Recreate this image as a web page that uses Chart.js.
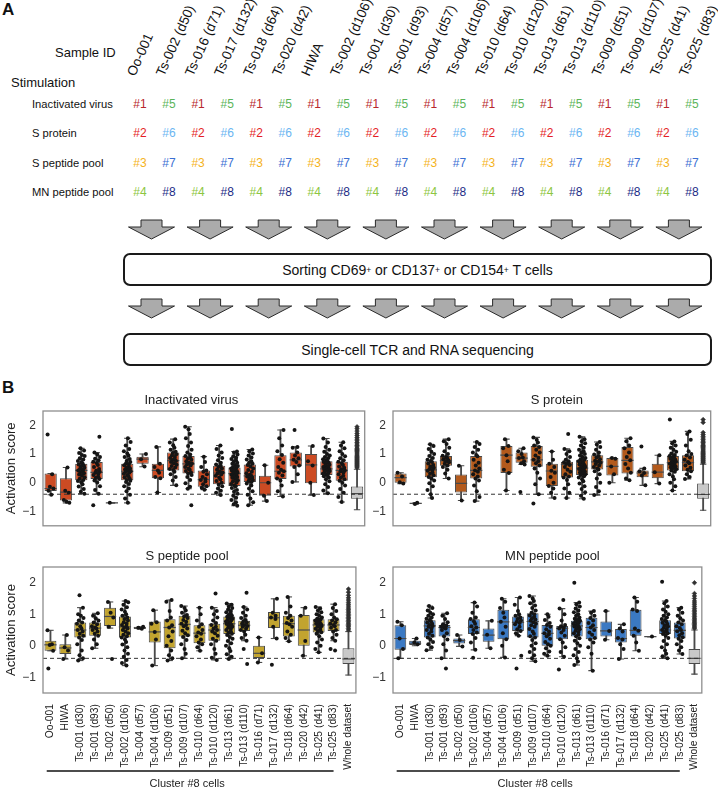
<!DOCTYPE html>
<html><head><meta charset="utf-8">
<script src="https://cdn.jsdelivr.net/npm/chart.js@4.4.1/dist/chart.umd.min.js"></script>
<style>
html,body{margin:0;padding:0;background:#fff;overflow:hidden;width:718px;height:792px;}
body{position:relative;font-family:'Liberation Sans',Arial,sans-serif;color:#111;}
#schem{position:absolute;left:0;top:0;}
.flow{position:absolute;left:123px;width:585px;height:29px;border:2px solid #1a1a1a;border-radius:7px;display:flex;align-items:center;justify-content:center;font-size:14px;color:#111;}
.flow sup{font-size:8.5px;line-height:0;}
canvas{position:absolute;}
.plabel{position:absolute;font-weight:bold;font-size:17px;line-height:17px;}
</style></head>
<body>
<div class="plabel" style="left:2px;top:1px">A</div>
<div class="plabel" style="left:2px;top:379px">B</div>
<svg id="schem" width="718" height="380" xmlns="http://www.w3.org/2000/svg"></svg>
<div class="flow" style="top:253px">Sorting CD69<sup>+</sup>&nbsp;or CD137<sup>+</sup>&nbsp;or CD154<sup>+</sup>&nbsp;T cells</div>
<div class="flow" style="top:333px">Single-cell TCR and RNA sequencing</div>
<canvas id="cIV" width="372" height="145" style="left:0;top:395px"></canvas>
<canvas id="cSP" width="363" height="145" style="left:355px;top:395px"></canvas>
<canvas id="cPP" width="372" height="241" style="left:0;top:551px"></canvas>
<canvas id="cMN" width="363" height="241" style="left:355px;top:551px"></canvas>
<script>
// ---------- Panel A data ----------
const sampleIds = ['Oo-001','Ts-002 (d50)','Ts-016 (d71)','Ts-017 (d132)','Ts-018 (d64)','Ts-020 (d42)','HIWA','Ts-002 (d106)','Ts-001 (d30)','Ts-001 (d93)','Ts-004 (d57)','Ts-004 (d106)','Ts-010 (d64)','Ts-010 (d120)','Ts-013 (d61)','Ts-013 (d110)','Ts-009 (d51)','Ts-009 (d107)','Ts-025 (d41)','Ts-025 (d83)'];
const stimulations = ['Inactivated virus','S protein','S peptide pool','MN peptide pool'];
const oddCodes = ['#1','#2','#3','#4'];
const evenCodes = ['#5','#6','#7','#8'];
const codeColors = {'#1':'#b8272c','#5':'#5bb55a','#2':'#e41e26','#6':'#6bb6f2','#3':'#f5b31c','#7':'#3b6fd3','#4':'#8dc641','#8':'#1c2c86'};

// ---------- Panel B data ----------
const categories = ['Oo-001','HIWA','Ts-001 (d30)','Ts-001 (d93)','Ts-002 (d50)','Ts-002 (d106)','Ts-004 (d57)','Ts-004 (d106)','Ts-009 (d51)','Ts-009 (d107)','Ts-010 (d64)','Ts-010 (d120)','Ts-013 (d61)','Ts-013 (d110)','Ts-016 (d71)','Ts-017 (d132)','Ts-018 (d64)','Ts-020 (d42)','Ts-025 (d41)','Ts-025 (d83)','Whole dataset'];
const yTicks = [-1,0,1,2];
const baseline = -0.4;

// Inactivated virus
const ivQ1  = [-0.29,-0.62,0.09,0.13,-0.705,0.09,0.66,0.16,0.43,0.32,-0.14,-0.05,-0.11,0.03,-0.45,0.13,0.57,-0.02,0.27,0.07,-0.56];
const ivMed = [-0.2,-0.33,0.43,0.36,-0.7,0.4,0.82,0.43,0.77,0.66,0.11,0.34,0.32,0.24,0.0,0.4,0.8,0.62,0.48,0.43,-0.38];
const ivQ3  = [0.32,0.16,0.66,0.72,-0.695,0.66,0.91,0.66,1.05,0.93,0.43,0.59,0.53,0.64,0.24,0.96,1.05,1.0,0.75,0.73,-0.13];
const ivLo  = [-0.42,-0.7,-0.38,-0.4,-0.7,-0.7,0.56,-0.34,-0.09,-0.21,-0.24,-0.43,-0.8,-0.78,-0.64,-0.48,0.03,-0.43,-0.37,-0.67,-0.94];
const ivHi  = [0.32,0.53,1.2,1.05,-0.7,1.55,1.0,1.25,1.52,1.95,0.91,1.3,1.09,1.16,0.61,1.84,1.25,1.28,1.54,1.41,0.47];
const ivPoints = [
 [1.68,0.3,-0.14,-0.2,-0.28,-0.42],
 [0.53,-0.28,-0.35,-0.6,-0.66,-0.7],
 [1.2,1.12,1.04,0.97,0.93,0.85,0.81,0.76,0.71,0.68,0.64,0.6,0.57,0.52,0.49,0.45,0.43,0.41,0.37,0.33,0.29,0.24,0.19,0.14,0.1,0.06,0.02,-0.05,-0.13,-0.22,-0.31,-0.38],
 [1.6,1.05,0.98,0.9,0.84,0.78,0.73,0.69,0.62,0.55,0.48,0.42,0.38,0.35,0.31,0.27,0.22,0.17,0.13,0.08,0.01,-0.12,-0.25,-0.38,-0.78],
 [-0.7],
 [1.55,1.42,1.3,1.18,1.1,1.02,0.95,0.9,0.83,0.77,0.72,0.68,0.65,0.61,0.57,0.53,0.5,0.46,0.43,0.4,0.38,0.35,0.31,0.27,0.23,0.19,0.14,0.1,0.07,0.03,-0.04,-0.12,-0.2,-0.3,-0.42,-0.55,-0.7],
 [1.0,0.82,0.57],
 [1.25,0.66,0.55,0.43,0.35,0.2,0.16,-0.34],
 [1.52,1.4,1.31,1.22,1.15,1.08,1.04,0.99,0.95,0.9,0.86,0.82,0.79,0.76,0.72,0.68,0.63,0.58,0.53,0.48,0.44,0.38,0.3,0.2,0.08,-0.09],
 [1.95,1.86,1.7,1.55,1.4,1.28,1.15,1.05,0.98,0.93,0.88,0.84,0.8,0.75,0.7,0.67,0.64,0.6,0.55,0.5,0.45,0.41,0.36,0.32,0.27,0.2,0.1,-0.02,-0.14,-0.21,-0.78],
 [0.91,0.72,0.55,0.43,0.38,0.3,0.2,0.13,0.1,0.04,-0.05,-0.12,-0.17,-0.24],
 [1.3,1.18,1.05,0.95,0.86,0.78,0.7,0.64,0.59,0.55,0.5,0.45,0.4,0.36,0.33,0.29,0.24,0.18,0.12,0.06,0.0,-0.06,-0.12,-0.2,-0.28,-0.35,-0.43],
 [1.87,1.09,1.05,0.98,0.92,0.87,0.83,0.78,0.74,0.7,0.66,0.62,0.58,0.55,0.53,0.5,0.47,0.45,0.42,0.4,0.38,0.35,0.33,0.31,0.28,0.26,0.23,0.2,0.17,0.13,0.09,0.05,0.01,-0.04,-0.09,-0.12,-0.18,-0.25,-0.31,-0.38,-0.45,-0.52,-0.6,-0.68,-0.75,-0.8],
 [1.16,1.1,1.02,0.95,0.88,0.81,0.75,0.7,0.66,0.62,0.57,0.5,0.44,0.38,0.33,0.28,0.25,0.22,0.18,0.14,0.1,0.06,0.03,-0.03,-0.1,-0.2,-0.3,-0.42,-0.55,-0.68,-0.78],
 [0.61,0.0,-0.45,-0.64],
 [1.84,1.55,1.3,1.1,0.97,0.82,0.7,0.55,0.45,0.4,0.35,0.25,0.15,0.08,-0.1,-0.3,-0.48],
 [1.84,1.25,1.22,1.05,0.95,0.85,0.8,0.72,0.6,0.55,0.3,0.03],
 [1.28,0.75,0.6,0.0,-0.43],
 [1.54,1.4,1.25,1.15,1.08,1.0,0.95,0.9,0.86,0.82,0.78,0.75,0.72,0.69,0.66,0.63,0.6,0.57,0.55,0.52,0.5,0.48,0.46,0.44,0.41,0.38,0.35,0.32,0.29,0.27,0.23,0.18,0.12,0.05,-0.05,-0.15,-0.27,-0.37],
 [1.41,1.3,1.2,1.1,1.0,0.92,0.85,0.78,0.73,0.68,0.62,0.57,0.52,0.47,0.43,0.4,0.36,0.3,0.24,0.18,0.12,0.07,0.0,-0.1,-0.22,-0.35,-0.5,-0.67]
];
const ivWholeOutliers = [0.52,0.56,0.6,0.63,0.67,0.7,0.74,0.78,0.81,0.85,0.88,0.92,0.96,1.0,1.04,1.08,1.12,1.16,1.2,1.25,1.3,1.35,1.4,1.46,1.52,1.58,1.65,1.72,1.8,1.88,1.95];

// S protein
const spQ1  = [0.0,-0.73,0.19,0.59,-0.34,0.15,null,0.34,0.7,0.56,-0.11,0.18,0.27,0.46,0.25,0.32,0.19,0.16,0.43,0.4,-0.56];
const spMed = [0.18,-0.72,0.45,0.77,-0.02,0.43,null,0.96,0.86,0.8,0.41,0.64,0.51,0.73,0.57,0.78,0.34,0.37,0.7,0.7,-0.41];
const spQ3  = [0.32,-0.71,0.75,0.93,0.29,0.93,null,1.28,1.05,1.28,0.66,0.73,0.8,0.96,0.86,1.25,0.43,0.66,0.93,0.96,-0.03];
const spLo  = [-0.03,-0.74,-0.53,0.15,-0.62,-0.64,null,-0.27,0.64,-0.4,-0.53,-0.53,-0.56,-0.43,0.0,0.09,-0.09,-0.03,-0.27,0.13,-0.96];
const spHi  = [0.35,-0.7,1.34,1.52,0.59,1.42,null,1.52,1.2,1.58,1.09,1.18,1.6,1.42,0.86,1.55,0.5,0.96,1.44,1.79,0.65];
const spPoints = [
 [0.35,0.22,0.02,-0.03],
 [-0.7,-0.74],
 [1.34,1.28,1.18,1.08,1.0,0.93,0.86,0.8,0.76,0.72,0.67,0.62,0.57,0.52,0.48,0.45,0.42,0.37,0.31,0.26,0.2,0.15,0.08,-0.02,-0.12,-0.25,-0.4,-0.53],
 [1.52,1.45,1.35,1.22,1.1,1.0,0.94,0.9,0.86,0.82,0.78,0.75,0.71,0.66,0.6,0.55,0.45,0.32,0.15],
 [0.59,-0.62],
 [1.42,1.35,1.25,1.15,1.05,0.97,0.92,0.8,0.7,0.6,0.5,0.43,0.38,0.3,0.22,0.15,0.08,-0.1,-0.3,-0.5,-0.64],
 [],
 [1.52,1.28,1.2,0.96,0.75,0.45,0.34,-0.27],
 [1.2,1.1,1.0,0.88,0.86,0.75,0.68,0.64,-0.32],
 [1.58,1.5,1.4,1.3,1.25,1.15,1.05,0.95,0.87,0.8,0.75,0.68,0.6,0.5,0.35,0.15,-0.05,-0.4,-0.72],
 [1.09,0.8,0.66,0.55,0.42,0.35,0.2,0.0,-0.11,-0.2,-0.35,-0.53],
 [1.7,1.18,1.1,1.0,0.9,0.8,0.75,0.71,0.68,0.65,0.62,0.55,0.45,0.38,0.3,0.22,0.18,0.1,-0.05,-0.2,-0.35,-0.53],
 [1.6,1.52,1.45,1.38,1.3,1.22,1.15,1.1,1.05,1.0,0.95,0.9,0.86,0.82,0.79,0.75,0.71,0.68,0.64,0.61,0.58,0.55,0.52,0.5,0.48,0.45,0.42,0.39,0.36,0.33,0.3,0.27,0.23,0.18,0.12,0.05,-0.03,-0.12,-0.22,-0.33,-0.45,-0.56],
 [1.42,1.33,1.25,1.15,1.05,0.98,0.93,0.88,0.82,0.77,0.73,0.7,0.65,0.6,0.55,0.5,0.46,0.4,0.3,0.15,0.0,-0.15,-0.3,-0.43],
 [0.86,0.84,0.57,0.3,0.0],
 [1.55,1.45,1.3,1.2,1.05,0.9,0.78,0.65,0.5,0.35,0.15,0.09],
 [1.26,0.5,0.4,0.34,0.25,-0.09],
 [0.96,0.37,-0.03],
 [2.2,1.44,1.38,1.3,1.22,1.15,1.08,1.02,0.97,0.93,0.9,0.87,0.84,0.8,0.77,0.74,0.71,0.69,0.66,0.63,0.6,0.57,0.54,0.51,0.47,0.43,0.38,0.3,0.22,0.12,0.0,-0.12,-0.27],
 [1.79,1.7,1.5,1.3,1.1,1.0,0.95,0.88,0.8,0.72,0.68,0.6,0.52,0.45,0.4,0.3,0.2,0.13]
];
const spWholeOutliers = [0.7,0.73,0.77,0.8,0.84,0.87,0.91,0.94,0.98,1.02,1.06,1.1,1.14,1.18,1.22,1.26,1.3,1.35,1.4,1.45,1.5,1.56,1.62,1.68,1.75,2.1,2.2];

// S peptide pool
const ppQ1  = [-0.16,-0.26,0.26,0.32,0.63,0.26,0.53,0.1,-0.08,0.29,0.08,0.16,0.37,0.47,-0.39,0.56,0.29,0.0,0.42,0.47,-0.58];
const ppMed = [0.03,-0.07,0.5,0.56,0.93,0.6,0.57,0.44,0.58,0.68,0.4,0.5,0.7,0.65,-0.24,0.89,0.7,0.5,0.66,0.66,-0.42];
const ppQ3  = [0.16,0.05,0.74,0.74,1.21,0.93,0.6,0.77,0.84,0.95,0.65,0.7,0.93,0.79,0.0,1.07,0.95,0.98,0.84,0.84,-0.08];
const ppLo  = [-0.16,-0.42,-0.47,-0.08,0.56,-0.63,0.53,-0.63,-0.47,-0.4,-0.16,-0.45,-0.42,0.16,-0.53,0.23,0.14,-0.32,-0.21,0.16,-0.93];
const ppHi  = [0.49,0.34,1.21,1.03,1.39,1.42,0.6,1.13,1.45,1.26,1.21,1.21,1.34,1.23,0.26,1.49,1.55,1.21,1.23,1.32,0.45];
const ppPoints = [
 [0.49,0.05,0.02,-0.16,-0.72],
 [0.34,-0.05,-0.15,-0.42],
 [1.6,1.21,1.0,0.95,0.88,0.8,0.74,0.7,0.62,0.55,0.5,0.45,0.38,0.32,0.26,0.18,0.05,-0.15,-0.3,-0.4,-0.47],
 [1.03,0.95,0.87,0.8,0.74,0.68,0.62,0.58,0.55,0.5,0.45,0.38,0.32,0.2,0.05,-0.08],
 [1.39,1.05,0.9,0.6,-0.42],
 [1.42,1.38,1.3,1.22,1.15,1.08,1.0,0.95,0.9,0.85,0.8,0.75,0.7,0.66,0.62,0.58,0.55,0.5,0.45,0.4,0.35,0.3,0.26,0.2,0.12,0.04,-0.05,-0.15,-0.25,-0.35,-0.45,-0.55,-0.63],
 [0.6,0.57,0.54],
 [1.13,0.75,0.7,0.44,0.2,-0.63],
 [1.45,1.4,1.1,0.9,0.8,0.65,0.58,0.45,0.3,0.15,0.0,-0.15,-0.3,-0.4,-0.47],
 [1.26,1.2,1.12,1.05,0.98,0.93,0.88,0.82,0.76,0.7,0.66,0.62,0.55,0.48,0.4,0.33,0.28,0.18,0.05,-0.1,-0.25,-0.4],
 [1.21,1.0,0.8,0.68,0.6,0.5,0.42,0.38,0.3,0.2,0.1,0.05,-0.05,-0.16],
 [1.66,1.21,1.1,1.0,0.9,0.8,0.72,0.66,0.6,0.55,0.5,0.45,0.4,0.32,0.22,0.16,0.05,-0.1,-0.25,-0.38,-0.45],
 [1.34,1.3,1.25,1.2,1.15,1.1,1.06,1.02,0.98,0.95,0.92,0.89,0.86,0.83,0.8,0.77,0.74,0.71,0.69,0.66,0.63,0.6,0.57,0.54,0.5,0.46,0.42,0.38,0.34,0.28,0.22,0.15,0.08,0.0,-0.08,-0.17,-0.27,-0.35,-0.42],
 [1.68,1.23,1.15,1.05,0.95,0.88,0.82,0.78,0.74,0.7,0.66,0.63,0.6,0.55,0.5,0.45,0.35,0.25,0.16,-0.1,-0.58],
 [0.26,-0.24,-0.53],
 [1.49,1.05,0.95,0.9,0.85,0.6,0.23,-0.6],
 [1.55,1.25,1.05,0.95,0.88,0.8,0.72,0.68,0.6,0.45,0.35,0.25,0.14],
 [1.21,0.95,0.15,-0.32],
 [1.23,1.18,1.12,1.06,1.0,0.95,0.9,0.86,0.83,0.8,0.77,0.74,0.71,0.68,0.66,0.63,0.6,0.57,0.54,0.51,0.47,0.43,0.38,0.3,0.2,0.1,0.0,-0.1,-0.21],
 [1.32,1.2,1.1,1.0,0.9,0.84,0.8,0.75,0.7,0.66,0.62,0.57,0.5,0.45,0.35,0.25,0.16,-0.1,-0.15]
];
const ppWholeOutliers = [0.5,0.55,0.6,0.64,0.68,0.72,0.77,0.81,0.86,0.9,0.95,1.0,1.05,1.1,1.15,1.2,1.26,1.32,1.38,1.45,1.52,1.6,1.7,1.8];

// MN peptide pool
const mnQ1  = [-0.13,0.02,0.26,0.29,0.07,0.37,0.13,0.21,0.47,0.26,0.0,0.21,0.29,0.21,0.29,0.1,0.32,0.28,0.37,0.23,-0.58];
const mnMed = [0.23,0.08,0.63,0.58,0.16,0.58,0.34,0.76,0.74,0.77,0.39,0.55,0.63,0.58,0.47,0.23,0.49,0.29,0.5,0.49,-0.4];
const mnQ3  = [0.65,0.16,0.81,0.66,0.23,0.84,0.55,1.14,0.93,1.03,0.66,0.63,0.79,0.89,0.77,0.53,1.14,0.3,0.81,0.74,-0.1];
const mnLo  = [-0.4,0.0,-0.14,-0.4,-0.02,-0.13,-0.08,-0.37,0.32,-0.49,-0.32,-0.35,-0.61,-0.79,0.19,-0.42,-0.16,0.29,-0.4,-0.26,-0.9];
const mnHi  = [0.76,0.23,1.26,1.03,0.34,1.37,0.79,1.49,1.53,1.58,1.0,1.18,1.37,1.1,1.1,0.68,1.53,0.29,1.42,1.21,0.5];
const mnPoints = [
 [0.76,0.65,0.23,-0.1,-0.4],
 [0.23,0.1,0.05],
 [1.26,1.2,1.12,1.05,1.0,0.95,0.9,0.86,0.82,0.78,0.74,0.7,0.66,0.63,0.6,0.55,0.5,0.45,0.38,0.32,0.26,0.2,0.12,0.05,-0.05,-0.14],
 [1.03,0.95,0.85,0.75,0.68,0.64,0.6,0.58,0.55,0.5,0.4,0.3,0.2,0.05,-0.15,-0.4,-0.72],
 [0.34,0.18,-0.02],
 [1.37,1.25,1.05,0.9,0.85,0.78,0.7,0.62,0.58,0.5,0.42,0.37,0.25,0.1,-0.13,-0.38],
 [0.79,0.35,-0.08],
 [1.49,1.4,1.2,1.05,0.9,0.76,0.6,0.4,0.21,0.0,-0.37],
 [1.53,1.3,1.1,1.0,0.95,0.9,0.85,0.8,0.76,0.72,0.68,0.6,0.52,0.47,0.4,0.32,-0.32,-0.72],
 [1.58,1.5,1.42,1.35,1.28,1.2,1.12,1.05,1.0,0.96,0.92,0.87,0.83,0.79,0.75,0.7,0.65,0.6,0.53,0.45,0.38,0.3,0.26,0.18,0.08,0.0,-0.1,-0.2,-0.3,-0.4,-0.49],
 [1.0,0.92,0.82,0.72,0.66,0.6,0.52,0.45,0.4,0.36,0.3,0.22,0.12,0.05,0.0,-0.08,-0.18,-0.25,-0.32],
 [1.45,1.18,1.0,0.8,0.66,0.62,0.58,0.55,0.5,0.42,0.32,0.21,0.1,-0.05,-0.2,-0.35,-0.75],
 [2.0,1.37,1.32,1.25,1.18,1.12,1.06,1.0,0.95,0.9,0.86,0.82,0.79,0.76,0.73,0.7,0.67,0.64,0.61,0.58,0.55,0.52,0.48,0.44,0.4,0.35,0.3,0.24,0.16,0.08,0.0,-0.1,-0.2,-0.3,-0.4,-0.5,-0.61],
 [1.1,1.05,0.95,0.88,0.8,0.72,0.65,0.58,0.5,0.42,0.35,0.25,0.2,0.1,-0.05,-0.25,-0.79],
 [1.1,0.47,0.19],
 [0.68,0.55,0.45,0.25,0.2,0.05,-0.1,-0.42],
 [1.53,1.4,1.15,1.1,0.55,0.48,0.32,0.1,-0.16],
 [0.29],
 [2.03,1.42,1.35,1.25,1.15,1.08,1.0,0.95,0.9,0.85,0.81,0.77,0.73,0.69,0.65,0.61,0.57,0.53,0.5,0.47,0.44,0.4,0.37,0.32,0.25,0.15,0.05,-0.05,-0.15,-0.25,-0.33,-0.4],
 [1.21,1.15,1.05,0.95,0.87,0.8,0.74,0.68,0.62,0.56,0.5,0.46,0.4,0.33,0.27,0.22,0.15,0.05,-0.05,-0.15,-0.26]
];
const mnWholeOutliers = [0.55,0.59,0.63,0.67,0.71,0.75,0.79,0.84,0.88,0.93,0.98,1.03,1.08,1.13,1.18,1.24,1.3,1.36,1.42,1.5,1.58,1.66,2.0];

// ---------- Panel A drawing ----------
const FONT = "'Liberation Sans', Arial, sans-serif";
const svgNS = 'http://www.w3.org/2000/svg';
const svg = document.getElementById('schem');
function addEl(tag, attrs, text) {
  const el = document.createElementNS(svgNS, tag);
  for (const k in attrs) el.setAttribute(k, attrs[k]);
  if (text !== undefined) el.textContent = text;
  svg.appendChild(el);
  return el;
}
const colX = j => 140 + 29.05 * j;
addEl('text', {x: 55, y: 56.5, 'font-size': 13, 'font-family': FONT, fill: '#111'}, 'Sample ID');
addEl('text', {x: 11, y: 87, 'font-size': 13, 'font-family': FONT, fill: '#111'}, 'Stimulation');
sampleIds.forEach((id, j) => {
  const x = colX(j) - 5, y = 77;
  addEl('text', {x, y, 'font-size': 13.5, 'font-family': FONT, fill: '#111', transform: `rotate(-66 ${x} ${y})`}, id);
});
stimulations.forEach((s, r) => {
  const y = 107.5 + 29.6 * r;
  addEl('text', {x: 32, y, 'font-size': 11.2, 'font-family': FONT, fill: '#111'}, s);
  sampleIds.forEach((id, j) => {
    const code = j % 2 === 0 ? oddCodes[r] : evenCodes[r];
    addEl('text', {x: colX(j), y, 'font-size': 12, 'font-family': FONT, fill: codeColors[code], 'text-anchor': 'middle'}, code);
  });
});
[220, 299].forEach(t => {
  for (let k = 0; k < 10; k++) {
    const c = 151.5 + 58.6 * k;
    const p = [[c-10.5,t],[c+10.5,t],[c+10.5,t+7],[c+23,t+7],[c,t+19],[c-23,t+7],[c-10.5,t+7]].map(q => q.join(',')).join(' ');
    addEl('polygon', {points: p, fill: '#ababab', stroke: '#2a2a2a', 'stroke-width': 1});
  }
});

// ---------- Panel B plugins ----------
const JIT = [-0.2,0.1,-0.05,0.18,-0.14,0.04,0.22,-0.1,0.13,-0.22,0.0,0.08,-0.17,0.16,-0.03,0.2,-0.08,0.11];
const panelTitle = {
  id: 'panelTitle',
  afterDraw(chart, args, opts) {
    const {ctx, chartArea: a} = chart;
    ctx.save();
    ctx.font = '13px ' + FONT;
    ctx.fillStyle = '#222';
    ctx.textAlign = 'center';
    ctx.textBaseline = 'middle';
    ctx.fillText(opts.text, (a.left + a.right) / 2 + opts.shift, a.top - 11);
    ctx.restore();
  }
};
const frame = {
  id: 'frame',
  afterDraw(chart) {
    const {ctx, chartArea: a} = chart;
    ctx.save();
    ctx.strokeStyle = '#8e8e8e';
    ctx.lineWidth = 1.3;
    ctx.strokeRect(a.left, a.top, a.right - a.left, a.bottom - a.top);
    ctx.restore();
  }
};
const clusterNote = {
  id: 'clusterNote',
  afterDraw(chart, args, opts) {
    if (!opts.show) return;
    const {ctx, chartArea: a} = chart;
    const xl = chart.scales.xl;
    const x0 = xl.getPixelForValue(-0.25), x1 = xl.getPixelForValue(19);
    ctx.save();
    ctx.strokeStyle = '#111';
    ctx.lineWidth = 1.3;
    ctx.beginPath();
    ctx.moveTo(x0, a.bottom + 78);
    ctx.lineTo(x1, a.bottom + 78);
    ctx.stroke();
    ctx.font = '11px ' + FONT;
    ctx.fillStyle = '#222';
    ctx.textAlign = 'center';
    ctx.textBaseline = 'middle';
    ctx.fillText('Cluster #8 cells', (x0 + x1) / 2 - 3, a.bottom + 91);
    ctx.restore();
  }
};

function buildPanel(id, color, q1, med, q3, lo, hi, pts, wholeOut, o) {
  const n = categories.length;
  const fills = categories.map((c, i) => i === n - 1 ? '#c9c9c9' : color);
  const whisk = lo.map((v, i) => v == null ? null : [v, hi[i]]);
  const boxes = q1.map((v, i) => v == null ? null : [v, q3[i]]);
  const caps = [];
  lo.forEach((v, i) => { if (v != null) { caps.push({x: i, y: v}); caps.push({x: i, y: hi[i]}); } });
  const meds = [];
  med.forEach((v, i) => { if (v != null) meds.push({x: i, y: v}); });
  const strip = [];
  pts.forEach((arr, i) => arr.forEach((v, k) => strip.push({x: i + JIT[(k + i) % JIT.length], y: v})));
  const fliers = wholeOut.map(v => ({x: n - 1, y: v}));
  const LC = '#4a4a4a';
  new Chart(document.getElementById(id), {
    type: 'bar',
    data: {
      labels: categories,
      datasets: [
        {type: 'bar', xAxisID: 'x', data: whisk, backgroundColor: LC, barThickness: 1.2, grouped: false, order: 6},
        {type: 'bar', xAxisID: 'x', data: boxes, backgroundColor: fills, borderColor: LC, borderWidth: 1, borderSkipped: false, categoryPercentage: 0.8, barPercentage: 1, grouped: false, order: 5},
        {type: 'scatter', xAxisID: 'xl', data: caps, pointStyle: 'line', pointRadius: 3.2, borderColor: LC, pointBorderColor: LC, pointBorderWidth: 1.1, order: 4},
        {type: 'scatter', xAxisID: 'xl', data: meds, pointStyle: 'line', pointRadius: 6.1, borderColor: LC, pointBorderColor: LC, pointBorderWidth: 1.2, order: 4},
        {type: 'scatter', xAxisID: 'xl', data: [{x: -0.5, y: baseline}, {x: n - 0.5, y: baseline}], showLine: true, borderColor: '#333', borderWidth: 1, borderDash: [4, 3], pointRadius: 0, order: 3},
        {type: 'scatter', xAxisID: 'xl', data: strip, pointRadius: 2, pointBackgroundColor: '#151515', backgroundColor: '#151515', pointBorderWidth: 0, order: 1},
        {type: 'scatter', xAxisID: 'xl', data: fliers, pointStyle: 'rectRot', pointRadius: 2.3, pointBackgroundColor: '#303030', pointBorderColor: '#303030', pointBorderWidth: 0.6, order: 1}
      ]
    },
    options: {
      responsive: false, animation: false, devicePixelRatio: 1,
      layout: {padding: o.padding},
      plugins: {legend: {display: false}, tooltip: {enabled: false}, title: {display: false},
        panelTitle: {text: o.title, shift: o.titleShift}, clusterNote: {show: o.showX}},
      scales: {
        x: {type: 'category', display: o.showX, offset: true,
            grid: {display: false, drawTicks: false}, border: {display: false},
            ticks: {autoSkip: false, maxRotation: 90, minRotation: 90, padding: 11, font: {size: 10.3, family: FONT}, color: '#222'},
            afterFit: s => { s.height = o.xHeight; }},
        xl: {type: 'linear', display: false, offset: false, grid: {offset: false}, bounds: 'data', min: -0.5, max: n - 0.5},
        y: {type: 'linear', min: -1.5, max: 2.5,
            afterBuildTicks: s => { s.ticks = yTicks.map(v => ({value: v})); },
            grid: {display: false, drawTicks: false}, border: {display: false},
            ticks: {padding: 7, font: {size: 12, family: FONT}, color: '#333', callback: v => v < 0 ? '\u2212' + Math.abs(v) : String(v)},
            title: {display: o.yTitle, text: 'Activation score', font: {size: 13, family: FONT}, color: '#222', padding: {top: 4, bottom: 0}},
            afterFit: s => { s.width = o.yWidth; }}
      }
    },
    plugins: [panelTitle, frame, clusterNote]
  });
}

buildPanel('cIV', '#cc4b23', ivQ1, ivMed, ivQ3, ivLo, ivHi, ivPoints, ivWholeOutliers,
  {title: 'Inactivated virus', titleShift: -12.5, yTitle: true, yWidth: 43, showX: false, xHeight: 0, padding: {top: 16, right: 6, bottom: 3, left: 0}});
buildPanel('cSP', '#b35a1c', spQ1, spMed, spQ3, spLo, spHi, spPoints, spWholeOutliers,
  {title: 'S protein', titleShift: 5, yTitle: false, yWidth: 38, showX: false, xHeight: 0, padding: {top: 16, right: 1, bottom: 3, left: 0}});
buildPanel('cPP', '#c2a42f', ppQ1, ppMed, ppQ3, ppLo, ppHi, ppPoints, ppWholeOutliers,
  {title: 'S peptide pool', titleShift: -12.5, yTitle: true, yWidth: 43, showX: true, xHeight: 99, padding: {top: 16, right: 6, bottom: 0, left: 0}});
buildPanel('cMN', '#3b79c3', mnQ1, mnMed, mnQ3, mnLo, mnHi, mnPoints, mnWholeOutliers,
  {title: 'MN peptide pool', titleShift: 5, yTitle: false, yWidth: 38, showX: true, xHeight: 99, padding: {top: 16, right: 1, bottom: 0, left: 0}});
</script>
</body></html>
